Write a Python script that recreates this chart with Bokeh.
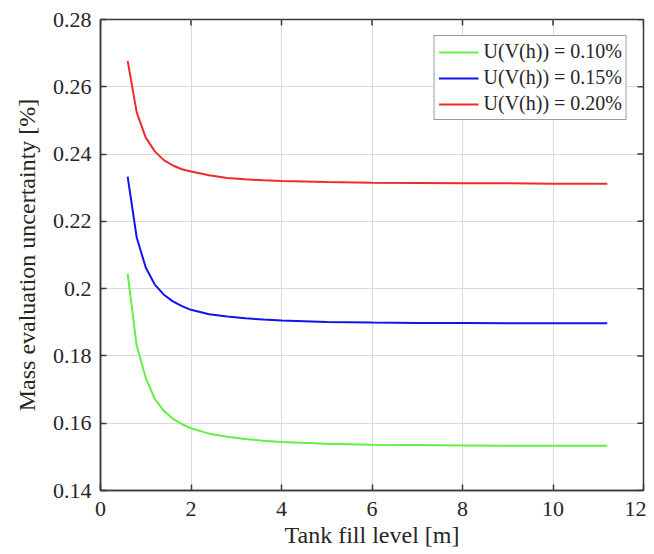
import math
from bokeh.plotting import figure
from bokeh.models import Range1d, FixedTicker, Legend, LegendItem
from bokeh.embed import file_html
from bokeh.resources import INLINE

fill_level = [0.6, 0.8, 1.0, 1.2, 1.4, 1.6, 1.8, 2.0, 2.4, 2.8, 3.2, 3.6, 4.0,
              5.0, 6.0, 7.0, 8.0, 9.0, 10.0, 11.2]
u_010 = [0.2045, 0.1830, 0.1735, 0.1672, 0.1637, 0.1613, 0.1597, 0.1585, 0.1569,
         0.1560, 0.1553, 0.1548, 0.1544, 0.1539, 0.1536, 0.1535, 0.1534, 0.1533,
         0.1533, 0.1533]
u_015 = [0.2333, 0.2152, 0.2063, 0.2012, 0.1982, 0.1962, 0.1948, 0.1937, 0.1924,
         0.1917, 0.1912, 0.1908, 0.1905, 0.1901, 0.1899, 0.1898, 0.1898, 0.1897,
         0.1897, 0.1897]
u_020 = [0.2677, 0.2524, 0.2449, 0.2408, 0.2382, 0.2366, 0.2355, 0.2348, 0.2337,
         0.2329, 0.2325, 0.2322, 0.2320, 0.2317, 0.2315, 0.2314, 0.2313, 0.2313,
         0.2312, 0.2312]
labels = ["U(V(h)) = 0.10%", "U(V(h)) = 0.15%", "U(V(h)) = 0.20%"]
x_ticks = [0, 2, 4, 6, 8, 10, 12]
y_ticks = [0.14, 0.16, 0.18, 0.2, 0.22, 0.24, 0.26, 0.28]
y_tick_labels = ["0.14", "0.16", "0.18", "0.2", "0.22", "0.24", "0.26", "0.28"]

FONT = "'Liberation Serif', 'Times New Roman', 'DejaVu Serif', serif"
AX = "#3a3a3a"
TXT = "#262626"
X0, X1, Y0, Y1 = 0, 12, 0.14, 0.28

p = figure(width=646, height=554, output_backend="svg", toolbar_location=None,
           x_range=Range1d(X0, X1), y_range=Range1d(Y0, Y1),
           min_border_left=100, min_border_right=3, min_border_top=19,
           min_border_bottom=64)
p.background_fill_color = "white"
p.border_fill_color = "white"
p.outline_line_color = AX
p.outline_line_width = 1.5

p.xgrid.ticker = FixedTicker(ticks=x_ticks)
p.ygrid.ticker = FixedTicker(ticks=y_ticks)
p.grid.grid_line_color = "#dadada"
p.grid.grid_line_width = 1

colors = ["#62ef46", "#1212ee", "#ee2b2b"]
renderers = []
for ys, c in zip([u_010, u_015, u_020], colors):
    r = p.line(fill_level, ys, line_color=c, line_width=2)
    renderers.append(r)

for ax in (p.xaxis[0], p.yaxis[0]):
    ax.axis_line_color = AX
    ax.axis_line_width = 1.5
    ax.major_tick_line_color = AX
    ax.major_tick_line_width = 1.5
    ax.major_tick_in = 6
    ax.major_tick_out = 0
    ax.minor_tick_line_color = None
    ax.major_label_text_font = FONT
    ax.major_label_text_font_size = "22px"
    ax.major_label_text_color = TXT
    ax.axis_label_text_font = FONT
    ax.axis_label_text_font_size = "24px"
    ax.axis_label_text_font_style = "normal"
    ax.axis_label_text_color = TXT

p.xaxis[0].ticker = FixedTicker(ticks=x_ticks)
p.yaxis[0].ticker = FixedTicker(ticks=y_ticks)
p.yaxis[0].major_label_overrides = {v: s for v, s in zip(y_ticks, y_tick_labels)}
p.xaxis[0].axis_label = "Tank fill level [m]"
p.yaxis[0].axis_label = "Mass evaluation uncertainty [%]"
p.xaxis[0].major_label_standoff = 11
p.xaxis[0].axis_label_standoff = 3
p.yaxis[0].major_label_standoff = 9
p.yaxis[0].axis_label_standoff = 10

# tick marks on the top and right edges of the box (MATLAB style)
p.ray(x=x_ticks, y=[Y1] * len(x_ticks), length=6, length_units="screen",
      angle=-math.pi / 2, line_color=AX, line_width=1.5)
p.ray(x=[X1] * len(y_ticks), y=y_ticks, length=6, length_units="screen",
      angle=math.pi, line_color=AX, line_width=1.5)

legend = Legend(items=[LegendItem(label=l, renderers=[r]) for l, r in zip(labels, renderers)],
                location="top_right")
legend.margin = 16
legend.padding = 4
legend.spacing = 3
legend.glyph_width = 40
legend.glyph_height = 22
legend.label_height = 22
legend.label_standoff = 5
legend.label_text_font = FONT
legend.label_text_font_size = "20px"
legend.label_text_color = TXT
legend.border_line_color = AX
legend.border_line_width = 1.2
legend.background_fill_color = "white"
legend.background_fill_alpha = 1
p.add_layout(legend, "center")

open("out.html", "w").write(file_html(p, INLINE))
